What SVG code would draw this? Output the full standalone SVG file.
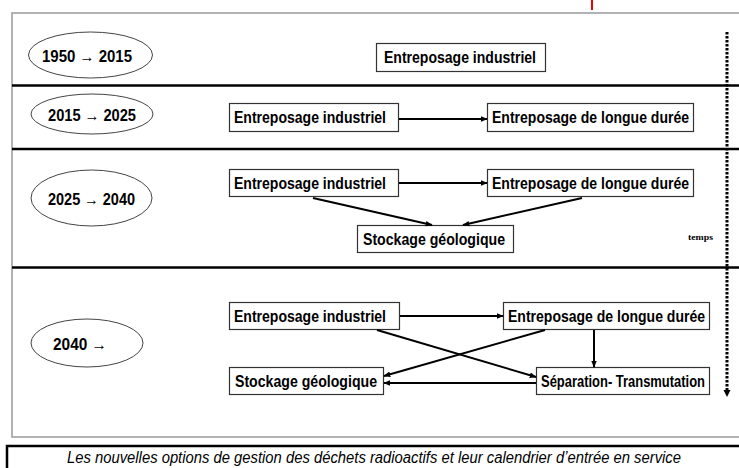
<svg xmlns="http://www.w3.org/2000/svg" width="739" height="468" viewBox="0 0 739 468">
<defs>
<style>
.bx{fill:#fff;stroke:#333;stroke-width:1.2}
.el{fill:#fff;stroke:#444;stroke-width:1}
.t{font-family:"Liberation Sans",Arial,sans-serif;font-weight:bold;font-size:16px;fill:#000}
.c{stroke:#000;stroke-width:2;fill:none}
.sec{stroke:#000;stroke-width:2.5}
</style>
<marker id="ah" viewBox="0 0 10 10" refX="9" refY="5" markerWidth="7" markerHeight="7" markerUnits="userSpaceOnUse" orient="auto">
<path d="M0,1 L10,5 L0,9 z" fill="#000"/>
</marker>
</defs>
<rect width="739" height="468" fill="#fff"/>
<line x1="592" y1="0" x2="592" y2="10" stroke="#e00" stroke-width="2"/>
<path d="M740,13 H12 V437 H740" fill="none" stroke="#999" stroke-width="1.5"/>
<g id="separators">
<line class="sec" x1="12" y1="85.5" x2="739" y2="85.5"/>
<line class="sec" x1="12" y1="149" x2="739" y2="149"/>
<line class="sec" x1="12" y1="267.5" x2="739" y2="267.5"/>
</g>
<g id="time-axis">
<line x1="727" y1="32" x2="727" y2="392" stroke="#000" stroke-width="3" stroke-dasharray="2.5 1.5"/>
<path d="M723.5,390 L730.5,390 L727,397 z" fill="#000"/>
<text x="688" y="240" font-family="Liberation Serif,serif" font-weight="bold" font-size="9px" textLength="25" lengthAdjust="spacingAndGlyphs">temps</text>
</g>
<g id="period-1950">
<ellipse class="el" cx="90.5" cy="55" rx="62" ry="23"/>
<text class="t" x="42" y="62" textLength="90" lengthAdjust="spacingAndGlyphs">1950 → 2015</text>
</g>
<g id="period-2015">
<ellipse class="el" cx="92" cy="114" rx="61" ry="20"/>
<text class="t" x="48" y="121" textLength="88" lengthAdjust="spacingAndGlyphs">2015 → 2025</text>
</g>
<g id="period-2025">
<ellipse class="el" cx="91.5" cy="198" rx="60.5" ry="28"/>
<text class="t" x="48" y="205" textLength="87" lengthAdjust="spacingAndGlyphs">2025 → 2040</text>
</g>
<g id="period-2040">
<ellipse class="el" cx="87" cy="343" rx="56" ry="24"/>
<text class="t" x="53" y="350" textLength="54" lengthAdjust="spacingAndGlyphs">2040 →</text>
</g>
<g id="r1-ei">
<rect class="bx" x="376.5" y="43.5" width="169" height="28"/>
<text class="t" x="384" y="63" textLength="152" lengthAdjust="spacingAndGlyphs">Entreposage industriel</text>
</g>
<g id="r2-ei">
<rect class="bx" x="229.5" y="103.5" width="169" height="28"/>
<text class="t" x="234" y="123" textLength="152" lengthAdjust="spacingAndGlyphs">Entreposage industriel</text>
</g>
<g id="r2-eld">
<rect class="bx" x="487.5" y="103.5" width="206" height="28"/>
<text class="t" x="492" y="123" textLength="197" lengthAdjust="spacingAndGlyphs">Entreposage de longue durée</text>
</g>
<g id="r3-ei">
<rect class="bx" x="229.5" y="169.5" width="169" height="27"/>
<text class="t" x="234" y="189" textLength="152" lengthAdjust="spacingAndGlyphs">Entreposage industriel</text>
</g>
<g id="r3-eld">
<rect class="bx" x="487.5" y="169.5" width="206" height="27"/>
<text class="t" x="492" y="189" textLength="197" lengthAdjust="spacingAndGlyphs">Entreposage de longue durée</text>
</g>
<g id="r3-sg">
<rect class="bx" x="357.5" y="225.5" width="156" height="27"/>
<text class="t" x="363" y="245" textLength="142" lengthAdjust="spacingAndGlyphs">Stockage géologique</text>
</g>
<g id="r4-ei">
<rect class="bx" x="229.5" y="302.5" width="170" height="27"/>
<text class="t" x="234" y="322" textLength="152" lengthAdjust="spacingAndGlyphs">Entreposage industriel</text>
</g>
<g id="r4-eld">
<rect class="bx" x="503.5" y="302.5" width="206" height="27"/>
<text class="t" x="508" y="322" textLength="197" lengthAdjust="spacingAndGlyphs">Entreposage de longue durée</text>
</g>
<g id="r4-sg">
<rect class="bx" x="229.5" y="367.5" width="154" height="27"/>
<text class="t" x="235" y="387" textLength="142" lengthAdjust="spacingAndGlyphs">Stockage géologique</text>
</g>
<g id="r4-st">
<rect class="bx" x="536.5" y="367.5" width="173" height="27"/>
<text class="t" x="541" y="387" font-size="15.5px" textLength="164" lengthAdjust="spacingAndGlyphs">Séparation- Transmutation</text>
</g>
<g id="connectors">
<line class="c" x1="399" y1="119" x2="487" y2="119" marker-end="url(#ah)"/>
<line class="c" x1="399" y1="183" x2="487" y2="183" marker-end="url(#ah)"/>
<line class="c" x1="313" y1="198" x2="432" y2="225" marker-end="url(#ah)"/>
<line class="c" x1="582" y1="198" x2="463" y2="225" marker-end="url(#ah)"/>
<line class="c" x1="400" y1="316" x2="503" y2="316" marker-end="url(#ah)"/>
<line class="c" x1="594" y1="330" x2="594" y2="367" marker-end="url(#ah)"/>
<line class="c" x1="536" y1="383" x2="384" y2="383" marker-end="url(#ah)"/>
<line class="c" x1="377" y1="330" x2="536" y2="377" marker-end="url(#ah)"/>
<line class="c" x1="545" y1="330" x2="384" y2="376" marker-end="url(#ah)"/>
</g>
<g id="caption">
<path d="M740,446 H7 V469" fill="none" stroke="#000" stroke-width="2.5"/>
<text x="67" y="463" font-family="Liberation Sans,Arial,sans-serif" font-style="italic" font-size="16px" textLength="614" lengthAdjust="spacingAndGlyphs">Les nouvelles options de gestion des déchets radioactifs et leur calendrier d’entrée en service</text>
</g>
</svg>
